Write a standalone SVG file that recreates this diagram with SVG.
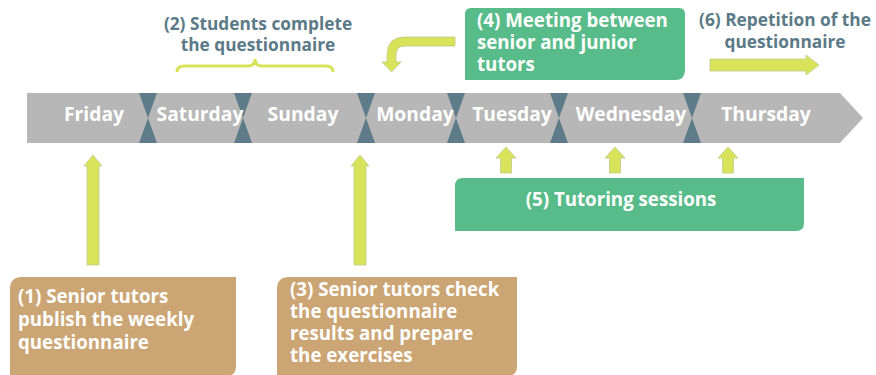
<svg xmlns="http://www.w3.org/2000/svg" width="876" height="375" viewBox="0 0 876 375">
<style>
.day{font-family:"Open Sans","Liberation Sans",sans-serif;font-weight:bold;font-size:19.3px;fill:#ffffff;text-anchor:middle}
.lbl{font-family:"Open Sans","Liberation Sans",sans-serif;font-weight:bold;font-size:17.3px;fill:#5b7a87;text-anchor:middle}
.box{font-family:"Open Sans","Liberation Sans",sans-serif;font-weight:bold;font-size:18.7px;fill:#ffffff}
.arr{fill:#d9e35a;stroke:#c2c98a;stroke-width:0.8}
.sep{fill:#5d7b88}
.tan{fill:#cba574}
.grn{fill:#58bc8a}
</style>
<rect width="876" height="375" fill="#ffffff"/>
<g id="timeline">
<path d="M27,93 L840,93 L863,118 L840,143 L27,143 Z" fill="#b7b7b7"/>
<g class="sep">
<path d="M139,93 L157,93 L148,118 Z M139,143 L157,143 L148,118 Z"/>
<path d="M234,93 L252,93 L243,118 Z M234,143 L252,143 L243,118 Z"/>
<path d="M357,93 L375,93 L366,118 Z M357,143 L375,143 L366,118 Z"/>
<path d="M447,93 L465,93 L456,118 Z M447,143 L465,143 L456,118 Z"/>
<path d="M550,93 L568,93 L559,118 Z M550,143 L568,143 L559,118 Z"/>
<path d="M683,93 L701,93 L692,118 Z M683,143 L701,143 L692,118 Z"/>
</g>
<text class="day" x="94" y="121">Friday</text>
<text class="day" x="200" y="121">Saturday</text>
<text class="day" x="303" y="121">Sunday</text>
<text class="day" x="415" y="121">Monday</text>
<text class="day" x="512" y="121">Tuesday</text>
<text class="day" x="631" y="121">Wednesday</text>
<text class="day" x="766" y="121">Thursday</text>
</g>
<g id="step1">
<path class="tan" d="M22,277 L236,277 L236,366 Q236,376 226,376 L10,376 L10,289 Q10,277 22,277 Z"/>
<text class="box" x="18" y="303">(1) Senior tutors</text>
<text class="box" x="18" y="326">publish the weekly</text>
<text class="box" x="18" y="349">questionnaire</text>
</g>
<g id="step2">
<text class="lbl" x="258" y="30">(2) Students complete</text>
<text class="lbl" x="258" y="51">the questionnaire</text>
<path d="M177,72 Q177,66 184,66 L248,66 Q255,66 255,59 Q255,66 262,66 L326,66 Q333,66 333,72" fill="none" stroke="#d9e35a" stroke-width="3"/>
</g>
<g id="step3">
<path class="tan" d="M289,277 L517,277 L517,366 Q517,376 507,376 L277,376 L277,289 Q277,277 289,277 Z"/>
<text class="box" x="290" y="296">(3) Senior tutors check</text>
<text class="box" x="290" y="318">the questionnaire</text>
<text class="box" x="290" y="340">results and prepare</text>
<text class="box" x="290" y="362">the exercises</text>
</g>
<g id="step4">
<path class="grn" d="M471,8 L679,8 Q685,8 685,14 L685,70 Q685,80 675,80 L465,80 L465,14 Q465,8 471,8 Z"/>
<text class="box" x="477" y="27">(4) Meeting between</text>
<text class="box" x="477" y="49">senior and junior</text>
<text class="box" x="477" y="71">tutors</text>
</g>
<g id="step5">
<path class="grn" d="M463,178 L804,178 L804,223 Q804,231 796,231 L455,231 L455,186 Q455,178 463,178 Z"/>
<text class="box" x="621" y="206" text-anchor="middle">(5) Tutoring sessions</text>
</g>
<g id="step6">
<text class="lbl" x="785" y="26">(6) Repetition of the</text>
<text class="lbl" x="785" y="48">questionnaire</text>
</g>
<g id="connectors">
<path class="arr" d="M93,155 L102,166 L99,166 L99,265 L87,265 L87,166 L84,166 Z"/>
<path class="arr" d="M360,155 L369,166 L366,166 L366,265 L354,265 L354,166 L351,166 Z"/>
<path class="arr" d="M506,147 L516,158 L511.5,158 L511.5,173 L500.5,173 L500.5,158 L496,158 Z"/>
<path class="arr" d="M615,147 L625,158 L620.5,158 L620.5,173 L609.5,173 L609.5,158 L605,158 Z"/>
<path class="arr" d="M728,147 L738,158 L733.5,158 L733.5,173 L722.5,173 L722.5,158 L718,158 Z"/>
<path class="arr" d="M455,37 L405,37 Q387,37 387,55 L387,62 L382,62 L391.5,72 L401,62 L396,62 L396,55 Q396,46 405,46 L455,46 Z"/>
<path class="arr" d="M710,59 L806,59 L806,55 L819,65 L806,75 L806,71 L710,71 Z"/>
</g>
</svg>
